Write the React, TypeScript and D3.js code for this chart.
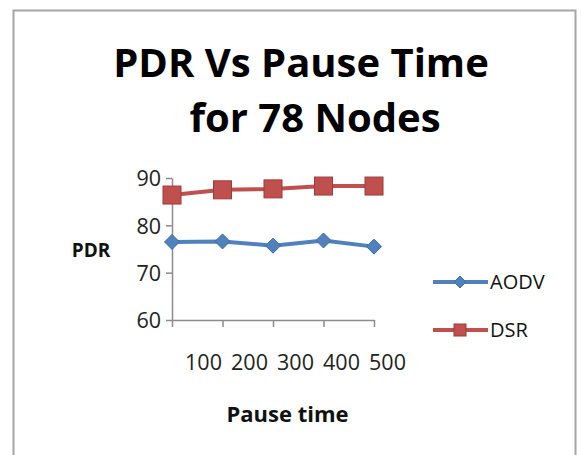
import React, { useEffect, useRef } from 'react';
import * as d3 from 'd3';

// chart data
const pauseTimes = ['100', '200', '300', '400', '500'];
const aodvPdr = [76.5, 76.6, 75.7, 76.8, 75.5];
const dsrPdr = [86.4, 87.5, 87.7, 88.3, 88.3];
const yTicks = [60, 70, 80, 90];
const seriesNames = ['AODV', 'DSR'];

const BLUE = '#4f81bd';
const RED = '#c0504d';
const FONT = '"Open Sans", "Noto Sans", sans-serif';

const App = () => {
  const ref = useRef<SVGSVGElement | null>(null);

  useEffect(() => {
    drawChart();
  }, []);

  const drawChart = () => {
    const svg = d3.select(ref.current);
    svg.selectAll('*').remove();

    // white background + frame
    svg.append('rect').attr('width', 581).attr('height', 455).attr('fill', '#fff');
    svg.append('rect')
      .attr('x', 13.5).attr('y', 10.5)
      .attr('width', 562).attr('height', 460)
      .attr('fill', 'none')
      .attr('stroke', '#a6a6a6')
      .attr('stroke-width', 2);

    // title
    const title = svg.append('text')
      .attr('text-anchor', 'middle')
      .attr('font-family', FONT)
      .attr('font-weight', 700)
      .attr('font-size', 40)
      .attr('fill', '#000');
    title.append('tspan').attr('x', 301).attr('y', 77).text('PDR Vs Pause Time');
    title.append('tspan').attr('x', 315).attr('y', 132).text('for 78 Nodes');

    // scales
    const x = d3.scalePoint<string>().domain(pauseTimes).range([172, 374]);
    const y = d3.scaleLinear().domain([60, 90]).range([320, 178]);
    const labelX = d3.scalePoint<string>().domain(pauseTimes).range([203.5, 387.5]);

    // y axis
    const yAxis = svg.append('g')
      .attr('transform', 'translate(172,0)')
      .call(d3.axisLeft(y).tickValues(yTicks).tickSize(6).tickSizeOuter(0).tickPadding(5));
    yAxis.select('.domain').attr('stroke', '#8c8c8c').attr('stroke-width', 1.5);
    yAxis.selectAll('.tick line').attr('stroke', '#8c8c8c').attr('stroke-width', 1.5);
    yAxis.selectAll('.tick text')
      .attr('font-family', FONT)
      .attr('font-size', 21.5)
      .attr('fill', '#222')
      .attr('dy', '0.36em');

    // x axis
    const xAxis = svg.append('g')
      .attr('transform', `translate(0,${y(60)})`)
      .call(d3.axisBottom(x).tickSize(7).tickSizeOuter(0).tickFormat(() => ''));
    xAxis.select('.domain').attr('stroke', '#8c8c8c').attr('stroke-width', 1.5);
    xAxis.selectAll('.tick line').attr('stroke', '#8c8c8c').attr('stroke-width', 1.5);

    // x tick labels
    svg.append('g').selectAll('text')
      .data(pauseTimes)
      .enter().append('text')
      .attr('x', d => labelX(d) as number)
      .attr('y', 370)
      .attr('text-anchor', 'middle')
      .attr('font-family', FONT)
      .attr('font-size', 21.5)
      .attr('fill', '#222')
      .text(d => d);

    // axis titles
    svg.append('text')
      .attr('x', 91).attr('y', 257)
      .attr('text-anchor', 'middle')
      .attr('font-family', FONT).attr('font-weight', 700).attr('font-size', 19)
      .attr('fill', '#111')
      .text('PDR');
    svg.append('text')
      .attr('x', 287.5).attr('y', 422)
      .attr('text-anchor', 'middle')
      .attr('font-family', FONT).attr('font-weight', 700).attr('font-size', 22)
      .attr('fill', '#111')
      .text('Pause time');

    const line = d3.line<number>()
      .x((_, i) => x(pauseTimes[i]) as number)
      .y(d => y(d));

    const diamond = (s: number) => `M0,${-s}L${s},0L0,${s}L${-s},0Z`;

    // DSR series
    svg.append('path')
      .datum(dsrPdr)
      .attr('d', line)
      .attr('fill', 'none')
      .attr('stroke', RED)
      .attr('stroke-width', 4);
    svg.append('g').selectAll('rect')
      .data(dsrPdr)
      .enter().append('rect')
      .attr('x', (_, i) => (x(pauseTimes[i]) as number) - 9)
      .attr('y', d => y(d) - 9)
      .attr('width', 18).attr('height', 18)
      .attr('fill', RED)
      .attr('stroke', '#9b3d3a')
      .attr('stroke-width', 1);

    // AODV series
    svg.append('path')
      .datum(aodvPdr)
      .attr('d', line)
      .attr('fill', 'none')
      .attr('stroke', BLUE)
      .attr('stroke-width', 4);
    svg.append('g').selectAll('path')
      .data(aodvPdr)
      .enter().append('path')
      .attr('transform', (d, i) => `translate(${x(pauseTimes[i])},${y(d)})`)
      .attr('d', diamond(7.5))
      .attr('fill', BLUE)
      .attr('stroke', '#3d6da6')
      .attr('stroke-width', 1);

    // legend
    const legend = svg.append('g');
    seriesNames.forEach((name, i) => {
      const ly = 282 + i * 48;
      const color = i === 0 ? BLUE : RED;
      legend.append('line')
        .attr('x1', 433).attr('x2', 488)
        .attr('y1', ly).attr('y2', ly)
        .attr('stroke', color).attr('stroke-width', 4);
      if (i === 0) {
        legend.append('path')
          .attr('transform', `translate(460,${ly})`)
          .attr('d', diamond(6))
          .attr('fill', color).attr('stroke', '#3d6da6');
      } else {
        legend.append('rect')
          .attr('x', 454).attr('y', ly - 6)
          .attr('width', 12).attr('height', 12)
          .attr('fill', color).attr('stroke', '#9b3d3a');
      }
      legend.append('text')
        .attr('x', 490).attr('y', ly + 7)
        .attr('font-family', FONT).attr('font-size', 20)
        .attr('fill', '#111')
        .text(name);
    });
  };

  return (
    <svg
      ref={ref}
      width={581}
      height={455}
      style={{ position: 'absolute', left: 0, top: 0, display: 'block' }}
    />
  );
};

export default App;
